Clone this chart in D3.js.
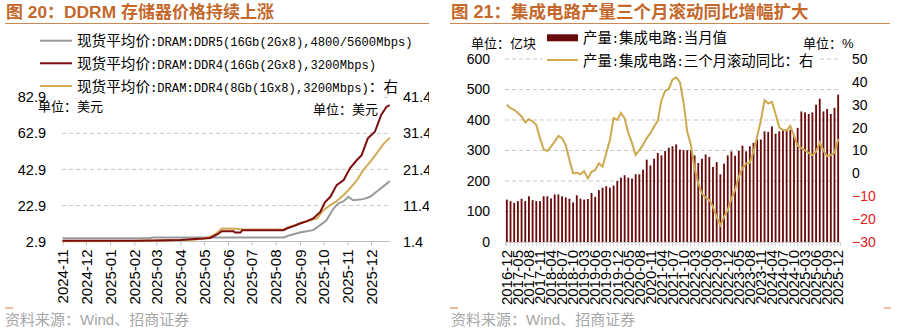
<!DOCTYPE html>
<html><head><meta charset="utf-8">
<script src="https://cdn.jsdelivr.net/npm/d3@7"></script>
<style>body{margin:0;background:#fff}svg{display:block}</style>
</head><body>
<script>
// ---------------- DATA: left chart (DRAM spot prices, USD) ----------------
const ddr5Dates = ["2024-11-01","2025-02-20","2025-02-25","2025-08-11","2025-08-19","2025-09-01","2025-09-18","2025-09-27","2025-10-05","2025-10-14","2025-10-20","2025-10-27","2025-11-02","2025-11-08","2025-11-21","2025-11-30","2025-12-08","2025-12-16","2025-12-25"];
const ddr5Vals  = [4.7,4.7,5.1,5.1,6.4,7.9,9.2,12.0,14.7,21.2,24.0,25.3,27.7,25.8,26.4,27.7,30.5,33.2,36.4];

const ddr4_16Dates = ["2024-11-01","2024-12-15","2025-02-01","2025-03-01","2025-04-01","2025-04-14","2025-05-01","2025-05-09","2025-05-18","2025-05-24","2025-06-08","2025-06-10","2025-06-17","2025-06-19","2025-07-15","2025-08-11","2025-08-15","2025-08-24","2025-09-01","2025-09-10","2025-09-18","2025-09-27","2025-10-03","2025-10-10","2025-10-18","2025-10-27","2025-11-04","2025-11-13","2025-11-19","2025-11-27","2025-12-06","2025-12-14","2025-12-21","2025-12-25"];
const ddr4_16Vals  = [3.3,3.3,3.3,3.4,3.8,4.2,4.6,4.9,6.8,8.6,8.6,7.9,7.9,9.2,9.2,9.2,10.1,11.4,12.9,14.2,15.7,19.3,24.6,27.7,34.2,37.0,43.5,48.1,50.8,60.1,63.8,73.1,77.7,78.6];

const ddr4_8Dates = ["2024-11-01","2025-02-01","2025-03-01","2025-04-01","2025-04-14","2025-05-01","2025-05-09","2025-05-18","2025-05-24","2025-06-12","2025-06-21","2025-08-11","2025-08-19","2025-09-01","2025-09-14","2025-09-23","2025-10-01","2025-10-10","2025-10-18","2025-10-27","2025-11-04","2025-11-13","2025-11-21","2025-11-30","2025-12-08","2025-12-16","2025-12-25"];
const ddr4_8Vals  = [1.5,1.55,1.7,1.8,1.85,2.2,2.7,3.8,5.0,4.95,4.7,4.7,5.5,6.4,7.3,7.8,10.1,11.5,12.6,14.3,16.1,18.4,21.2,23.5,25.8,28.2,30.2];

const leftTicksL = [2.9,22.9,42.9,62.9,82.9];
const leftTicksR = [1.4,11.4,21.4,31.4,41.4];
const leftMonths = ["2024-11","2024-12","2025-01","2025-02","2025-03","2025-04","2025-05","2025-06","2025-07","2025-08","2025-09","2025-10","2025-11","2025-12"];
const leftLegend = ["现货平均价:DRAM:DDR5(16Gb(2Gx8),4800/5600Mbps)","现货平均价:DRAM:DDR4(16Gb(2Gx8),3200Mbps)","现货平均价:DRAM:DDR4(8Gb(1Gx8),3200Mbps)：右"];

// ---------------- DATA: right chart (IC output) ----------------
const years = [2017,2018,2019,2020,2021,2022,2023,2024,2025];
const monthsOfYear = ["03","04","05","06","07","08","09","10","11","12"]; // Jan/Feb not published
const categories = ["2016-12"].concat(years.flatMap(y => monthsOfYear.map(m => y + "-" + m)));
const icOutput = [139,134,128,134,142,134,150,137,134,134,150,
  150,143,156,156,150,146,142,130,153,142,
  139,141,161,148,170,178,183,178,185,200,
  211,219,211,208,222,222,237,270,251,273,
  292,284,298,309,314,320,303,301,301,301,
  284,259,273,287,279,246,262,222,257,284,
  297,283,299,316,297,314,325,336,336,363,
  361,379,355,363,370,370,368,352,374,428,
  425,420,425,450,470,428,436,420,440,483];
const icYoY3m = [30,28.5,27.8,26.4,24.9,22.3,23.7,22.7,21.2,15.4,10.5,
  9.8,11.7,13.9,16.4,15.4,12.4,5.9,0,0.3,-0.4,
  1,-2.2,0.7,1.5,4.4,2.9,8.8,14.6,24.2,23.4,
  26.4,24,17.6,13.2,8.1,10.2,12.4,15.4,17.6,20.5,
  23,32,36,37,41,42,40,31,18.3,12.4,
  2.2,-4.4,-8.8,-10.5,-11.7,-14.6,-19,-22.7,-19,-16.1,
  -11,-7.3,-1.5,2.2,4.4,4.7,9.5,16.1,23,32,
  30.5,31.3,26,20,19,18.8,20.7,16.5,12,11,
  10,9,8,9.5,13.5,10,7.5,8,9,15];
const rightTicksL = [0,100,200,300,400,500,600];
const rightTicksR = [-30,-20,-10,0,10,20,30,40,50];
const rightLegend = ["产量:集成电路:当月值","产量:集成电路:三个月滚动同比：右"];

// ---------------- helpers ----------------
const CJK = "'Noto Sans CJK SC', sans-serif";
const SANS = "'Liberation Sans', Arial, sans-serif";
const MONO = "'Liberation Mono', monospace";
const isCJK = ch => /[\u2E80-\u9FFF\u3000-\u303F\uFF00-\uFFEF]/.test(ch);
function mixed(g, x, y, str, size, opt) {
  opt = opt || {};
  const t = g.append("text").attr("x", x).attr("y", y).attr("dy", "0.36em")
    .attr("fill", opt.fill || "#000").attr("font-weight", opt.bold ? "bold" : "normal");
  const runs = [];
  for (const ch of str) {
    const c = isCJK(ch);
    if (runs.length && runs[runs.length-1].c === c) runs[runs.length-1].s += ch;
    else runs.push({c, s: ch});
  }
  runs.forEach(r => {
    t.append("tspan").attr("font-family", r.c ? CJK : (opt.latin || MONO))
      .attr("font-size", r.c ? size : size * (opt.latinScale || 0.833))
      .style("white-space", "pre").text(r.s);
  });
  return t;
}
const parse = d3.timeParse("%Y-%m-%d");
const parseM = d3.timeParse("%Y-%m");

const svg = d3.select("body").append("svg").attr("width", 900).attr("height", 329);
svg.append("rect").attr("width", 900).attr("height", 329).attr("fill", "#fff");
const TITLE = "#C4682C", RULE = "#C98A55";

// ================= LEFT CHART =================
svg.append("clipPath").attr("id", "clipL").append("rect").attr("x", 0).attr("y", 0).attr("width", 429).attr("height", 329);
const L = svg.append("g").attr("clip-path", "url(#clipL)");

mixed(svg, 6, 12.5, "图 20：DDRM 存储器价格持续上涨", 17, {bold: true, fill: TITLE, latin: SANS, latinScale: 1.02});
L.append("line").attr("x1", 5).attr("x2", 430).attr("y1", 23.5).attr("y2", 23.5).attr("stroke", RULE).attr("stroke-width", 1.2);

const xL = d3.scaleTime().domain([parse("2024-11-01"), parse("2025-12-01")]).range([62.5, 371]);
const yLL = d3.scaleLinear().domain([2.9, 82.9]).range([241.5, 97.3]);
const yLR = d3.scaleLinear().domain([1.4, 41.4]).range([241.5, 97.3]);

L.append("g").selectAll("line").data(leftTicksL.slice(1)).join("line")
  .attr("x1", 62).attr("x2", 390).attr("y1", d => yLL(d)).attr("y2", d => yLL(d))
  .attr("stroke", "#C8C8C8").attr("stroke-dasharray", "4,3");

const axL = L.append("g").attr("transform", "translate(0,241.5)")
  .call(d3.axisBottom(xL).tickValues(leftMonths.map(parseM)).tickSize(4).tickFormat(d3.timeFormat("%Y-%m")));
axL.select(".domain").attr("stroke", "#BFBFBF").attr("d", "M62,0H390");
axL.selectAll(".tick line").attr("stroke", "#BFBFBF");
axL.selectAll("text").attr("transform", "rotate(-90)").attr("x", -8).attr("y", 0).attr("dy", "0.35em")
  .style("text-anchor", "end").attr("font-family", SANS).attr("font-size", 15).attr("fill", "#000");

const line = (dates, vals, y) => d3.line().x((d, i) => xL(parse(dates[i]))).y(d => y(d))(vals);
L.append("path").attr("d", line(ddr5Dates, ddr5Vals, yLL)).attr("fill", "none").attr("stroke", "#9A9A9A").attr("stroke-width", 2);
L.append("path").attr("d", line(ddr4_8Dates, ddr4_8Vals, yLR)).attr("fill", "none").attr("stroke", "#D2AC55").attr("stroke-width", 2);
L.append("path").attr("d", line(ddr4_16Dates, ddr4_16Vals, yLL)).attr("fill", "none").attr("stroke", "#7E0E0E").attr("stroke-width", 2);

// legend
L.append("rect").attr("x", 34).attr("y", 28).attr("width", 348).attr("height", 72).attr("fill", "#fff");
const legColors = ["#9A9A9A", "#7E0E0E", "#D2AC55"];
const legY = [40.7, 63.3, 86];
leftLegend.forEach((s, i) => {
  L.append("line").attr("x1", 40).attr("x2", 72).attr("y1", legY[i]).attr("y2", legY[i]).attr("stroke", legColors[i]).attr("stroke-width", 2);
  mixed(L, 77, legY[i], s, 14.6);
});

const ayL = L.append("g").attr("transform", "translate(49,0)")
  .call(d3.axisLeft(yLL).tickValues(leftTicksL).tickSize(0).tickPadding(3).tickFormat(d3.format(".1f")));
ayL.select(".domain").remove();
ayL.selectAll("text").attr("font-family", SANS).attr("font-size", 14.5).attr("fill", "#000");
const ayR = L.append("g").attr("transform", "translate(400,0)")
  .call(d3.axisRight(yLR).tickValues(leftTicksR).tickSize(0).tickPadding(3).tickFormat(d3.format(".1f")));
ayR.select(".domain").remove();
ayR.selectAll("text").attr("font-family", SANS).attr("font-size", 14.5).attr("fill", "#000");

mixed(L, 38, 105, "单位：美元", 13);
mixed(L, 313, 108, "单位：美元", 13);
mixed(svg, 5, 319, "资料来源：Wind、招商证券", 15, {fill: "#A6A6A6", latin: SANS, latinScale: 1});
svg.append("line").attr("x1", 5).attr("x2", 13).attr("y1", 308).attr("y2", 308).attr("stroke", "#E07A45");

// ================= RIGHT CHART =================
const R = svg.append("g");
mixed(R, 451, 12.5, "图 21：集成电路产量三个月滚动同比增幅扩大", 17.5, {bold: true, fill: TITLE, latin: SANS, latinScale: 1.03});
R.append("line").attr("x1", 450).attr("x2", 890).attr("y1", 23.5).attr("y2", 23.5).attr("stroke", RULE).attr("stroke-width", 1.2);

const xB = d3.scaleBand().domain(categories).range([505, 840]).paddingInner(0.5).paddingOuter(0.25);
const yB = d3.scaleLinear().domain([0, 600]).range([242, 59]);
const yY = d3.scaleLinear().domain([-30, 50]).range([242, 59]);

R.append("g").selectAll("line").data(rightTicksL.slice(1)).join("line")
  .attr("x1", 505).attr("x2", 840).attr("y1", d => yB(d)).attr("y2", d => yB(d))
  .attr("stroke", "#C8C8C8").attr("stroke-dasharray", "4,3");

R.append("g").selectAll("rect").data(icOutput).join("rect")
  .attr("x", (d, i) => xB(categories[i])).attr("width", xB.bandwidth())
  .attr("y", d => yB(d)).attr("height", d => yB(0) - yB(d)).attr("fill", "#6B0A0A");

const axB = R.append("g").attr("transform", "translate(0,242)")
  .call(d3.axisBottom(xB).tickSize(4).tickFormat((d, i) => i % 3 === 0 ? d : ""));
axB.select(".domain").attr("stroke", "#D0D0D0");
axB.selectAll(".tick line").attr("stroke", "#D0D0D0");
axB.selectAll("text").attr("transform", "rotate(-90)").attr("x", -8).attr("y", 0).attr("dy", "0.35em")
  .style("text-anchor", "end").attr("font-family", SANS).attr("font-size", 15).attr("fill", "#000");

R.append("path").attr("d", d3.line().x((d, i) => xB(categories[i]) + xB.bandwidth() / 2).y(d => yY(d))(icYoY3m))
  .attr("fill", "none").attr("stroke", "#CDA94F").attr("stroke-width", 2);

// legend
R.append("rect").attr("x", 543).attr("y", 28).attr("width", 274).attr("height", 42).attr("fill", "#fff");
R.append("rect").attr("x", 547).attr("y", 34.3).attr("width", 31).attr("height", 7).attr("fill", "#6B0A0A");
mixed(R, 583, 37.5, rightLegend[0], 14.4);
R.append("line").attr("x1", 547).attr("x2", 578).attr("y1", 60).attr("y2", 60).attr("stroke", "#CDA94F").attr("stroke-width", 2);
mixed(R, 583, 60, rightLegend[1], 14.4);

const ayB = R.append("g").attr("transform", "translate(493,0)")
  .call(d3.axisLeft(yB).tickValues(rightTicksL).tickSize(0).tickPadding(3));
ayB.select(".domain").remove();
ayB.selectAll("text").attr("font-family", SANS).attr("font-size", 14).attr("fill", "#000");
const ayY = R.append("g").attr("transform", "translate(849,0)")
  .call(d3.axisRight(yY).tickValues(rightTicksR).tickSize(0).tickPadding(3));
ayY.select(".domain").remove();
ayY.selectAll("text").attr("font-family", SANS).attr("font-size", 14).attr("fill", d => d < 0 ? "#E02020" : "#000");

mixed(R, 471, 42, "单位：亿块", 13);
mixed(R, 803, 42, "单位：%", 13, {latin: SANS, latinScale: 1});
mixed(R, 451, 319, "资料来源：Wind、招商证券", 15, {fill: "#A6A6A6", latin: SANS, latinScale: 1});
R.append("line").attr("x1", 450).attr("x2", 458).attr("y1", 308).attr("y2", 308).attr("stroke", "#E07A45");
R.append("line").attr("x1", 884).attr("x2", 891).attr("y1", 308).attr("y2", 308).attr("stroke", "#E07A45");
</script>
</body></html>
